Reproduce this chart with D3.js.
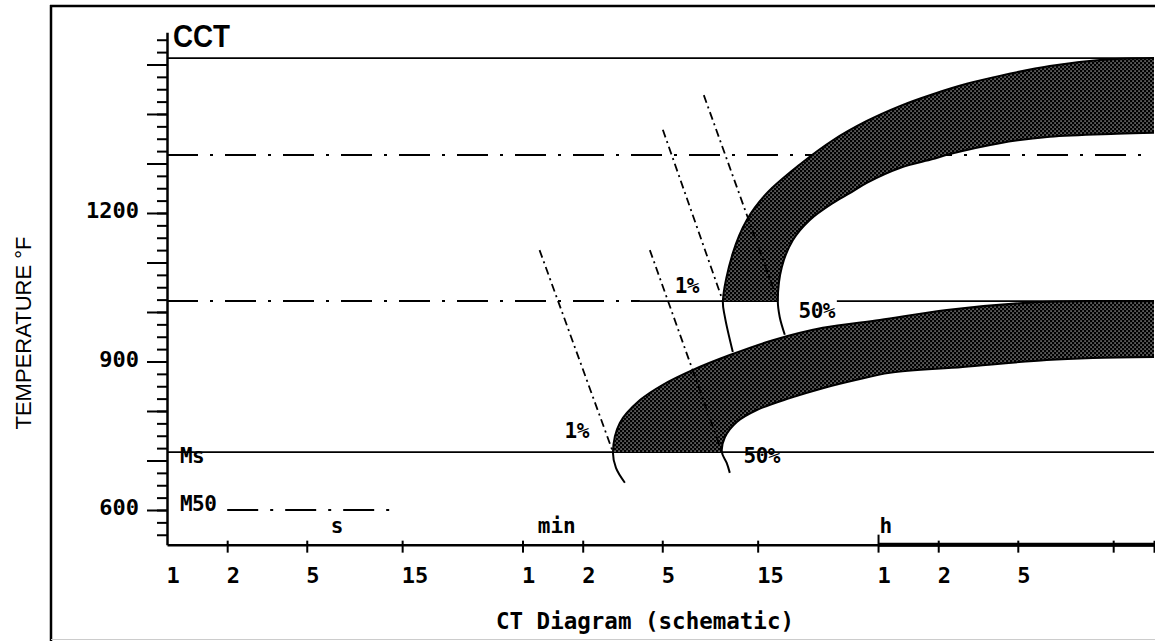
<!DOCTYPE html>
<html><head><meta charset="utf-8">
<script src="https://cdn.jsdelivr.net/npm/d3@7"></script>
<style>body{margin:0;background:#fff}svg{display:block}</style>
</head><body>
<svg id="chart" width="1155" height="641"></svg>
<script>
// ---------- data ----------
const tempMajor = [600, 700, 800, 900, 1000, 1100, 1200, 1300, 1400, 1500];
const tempLabels = [600, 900, 1200];
const tempMinor = d3.range(550, 1551, 25);
const timeTicks = [1, 2, 5, 15, 60, 120, 300, 900, 3600, 7200, 18000, 54000, 86400];
const timeTickLabels = ["1", "2", "5", "15", "1", "2", "5", "15", "1", "2", "5", "", ""];
const unitNames = ["s", "min", "h"];
const unitTimes = [7.1, 89, 3940];

// reference temperatures (°F) with their time spans (s)
const refTemps  = [1513, 1317, 1022, 1022, 1022, 717, 600];
const refStart  = [1, 1, 1, 232, 2240, 1, 2];
const refEnd    = [86400, 77600, 232, 1135, 86400, 86400, 13.5];
const refDashed = [false, true, true, false, false, false, true];

// transformation curves: [time s, temperature °F]
const lowerOne = [[195,655],[176,685],[170,717],[184,776],[232,822],[302,853],[427,883],[653,913],[1072,943],[1905,968],[3673,984],[7943,1004],[19050,1018],[39810,1022],[86400,1022]];
const lowerFifty = [[653,675],[630,695],[596,717],[617,747],[708,778],[891,802],[1303,826],[1905,846],[2818,863],[4121,877],[9550,889],[25120,903],[42660,907],[86400,909]];
const upperOne = [[676,919],[617,990],[603,1022],[676,1119],[794,1186],[1000,1240],[1462,1298],[2138,1347],[3162,1386],[4624,1416],[6761,1440],[10000,1461],[14620,1477],[26000,1497],[46240,1509],[86400,1513]];
const upperFifty = [[1230,954],[1160,990],[1135,1022],[1189,1091],[1349,1145],[1641,1186],[2138,1220],[2600,1240],[3162,1261],[4624,1291],[6761,1309],[8222,1319],[14620,1341],[26000,1354],[56230,1360],[86400,1362]];
const lowerNose = 717;
const upperNose = 1022;

// cooling curves (dash-dot)
const coolStartT = [73, 260, 302, 484];
const coolStartTemp = [1125, 1125, 1368, 1438];
const coolEndT = [170, 596, 603, 1135];
const coolEndTemp = [717, 717, 1022, 1022];

// annotations
const noteText = ["1%", "1%", "50%", "50%"];
const noteT = [112, 398, 1778, 944];
const noteTemp = [745, 1038, 988, 695];
const sideText = ["Ms", "M50"];
const sideT = [1.16, 1.16];
const sideTemp = [695, 598];

// ---------- drawing ----------
const svg = d3.select("#chart");
const mono = "'DejaVu Sans Mono', monospace";

const x = d3.scaleLog().domain([1, 86400]).range([167, 1154]);
const y = d3.scaleLinear().domain([530, 1565]).range([544.65, 32.3]);

// pattern for bands
const defs = svg.append("defs");
const pat = defs.append("pattern").attr("id", "dots").attr("patternUnits", "userSpaceOnUse")
  .attr("width", 4).attr("height", 4);
pat.append("rect").attr("width", 4).attr("height", 4).attr("fill", "#000");
pat.append("rect").attr("x", 0.5).attr("y", 0.5).attr("width", 1.1).attr("height", 1.1).attr("fill", "#fff");
pat.append("rect").attr("x", 2.5).attr("y", 2.5).attr("width", 1.1).attr("height", 1.1).attr("fill", "#fff");

// outer frame
svg.append("line").attr("x1", 51).attr("x2", 51).attr("y1", 5).attr("y2", 641).attr("stroke", "#000").attr("stroke-width", 2.5);
svg.append("line").attr("x1", 50).attr("x2", 1155).attr("y1", 6).attr("y2", 6).attr("stroke", "#000").attr("stroke-width", 2.5);
svg.append("line").attr("x1", 51).attr("x2", 1155).attr("y1", 639.5).attr("y2", 639.5).attr("stroke", "#ccc").attr("stroke-width", 1);

// reference horizontal lines
const dashMain = "31,12,3,12";
refTemps.forEach((T, i) => {
  svg.append("line")
    .attr("x1", x(refStart[i])).attr("x2", x(refEnd[i]))
    .attr("y1", y(T)).attr("y2", y(T))
    .attr("stroke", "#000").attr("stroke-width", refDashed[i] ? 2 : 1.7)
    .attr("stroke-dasharray", refDashed[i] ? dashMain : null);
});

const line = d3.line().x(d => x(d[0])).y(d => y(d[1])).curve(d3.curveCatmullRom.alpha(0.5));

function band(one, fifty, nose) {
  const a = one.filter(d => d[1] >= nose);
  const b = fifty.filter(d => d[1] >= nose).slice().reverse();
  const p = line(a) + line(b).replace(/^M/, "L") + "Z";
  svg.append("path").attr("d", p).attr("fill", "url(#dots)").attr("stroke", "none");
  [one, fifty].forEach(c => svg.append("path").attr("d", line(c)).attr("fill", "none")
    .attr("stroke", "#000").attr("stroke-width", 2));
}
band(lowerOne, lowerFifty, lowerNose);
band(upperOne, upperFifty, upperNose);

// cooling curves
coolStartT.forEach((t, i) => {
  svg.append("path").attr("d", d3.line().x(d => x(d[0])).y(d => y(d[1]))([[t, coolStartTemp[i]], [coolEndT[i], coolEndTemp[i]]]))
    .attr("stroke", "#000").attr("stroke-width", 1.8).attr("fill", "none")
    .attr("stroke-dasharray", "8,4,2,4");
});

// y axis
const gy = svg.append("g").attr("transform", "translate(167,0)");
gy.call(d3.axisLeft(y).tickValues(tempMinor).tickSize(10).tickSizeOuter(0).tickFormat(""));
gy.select(".domain").attr("stroke-width", 2.5);
gy.selectAll(".tick line").attr("stroke-width", 2);
const gyM = svg.append("g").attr("transform", "translate(167,0)");
gyM.call(d3.axisLeft(y).tickValues(tempMajor).tickSize(20).tickPadding(8)
  .tickFormat(d => tempLabels.includes(d) ? String(d) : ""));
gyM.select(".domain").remove();
gyM.selectAll(".tick line").attr("stroke-width", 2);
gyM.selectAll(".tick text").attr("font-family", mono).attr("font-weight", "bold")
  .attr("font-size", 22).attr("fill", "#000").attr("dy", "0.22em");

// x axis
const gx = svg.append("g").attr("transform", "translate(0," + y(530) + ")");
gx.call(d3.axisBottom(x).tickValues(timeTicks).tickSize(8).tickSizeOuter(0)
  .tickFormat((d, i) => timeTickLabels[i]));
gx.select(".domain").attr("stroke-width", 2.5);
gx.selectAll(".tick line").attr("stroke-width", 2).attr("y1", -4).attr("y2", 8)
  .attr("opacity", d => d === 1 ? 0 : 1);
gx.selectAll(".tick").filter(d => d === 3600).select("line").attr("y1", -10);
gx.selectAll(".tick text").attr("font-family", mono).attr("font-weight", "bold")
  .attr("font-size", 22).attr("fill", "#000").attr("text-anchor", "start")
  .attr("x", -1).attr("y", 38).attr("dy", 0);
gx.append("line").attr("x1", x(3600)).attr("x2", x(86400)).attr("y1", 0).attr("y2", 0)
  .attr("stroke", "#000").attr("stroke-width", 4);

// unit labels
unitNames.forEach((u, i) => {
  svg.append("text").attr("x", x(unitTimes[i])).attr("y", y(530) - 12)
    .attr("text-anchor", "middle").attr("font-family", mono).attr("font-weight", "bold")
    .attr("font-size", 21).text(u);
});

// annotations
noteText.forEach((s, i) => {
  svg.append("text").attr("x", x(noteT[i])).attr("y", y(noteTemp[i]))
    .attr("text-anchor", "middle").attr("font-family", mono).attr("font-weight", "bold")
    .attr("font-size", 21).attr("letter-spacing", -0.5).text(s);
});
sideText.forEach((s, i) => {
  svg.append("text").attr("x", x(sideT[i])).attr("y", y(sideTemp[i]))
    .attr("text-anchor", "start").attr("font-family", mono).attr("font-weight", "bold")
    .attr("font-size", 21).attr("letter-spacing", -0.5).text(s);
});

// titles
svg.append("text").attr("x", 173).attr("y", 47).attr("font-family", "'Liberation Sans', Arial, sans-serif")
  .attr("font-weight", "bold").attr("font-size", 32).attr("textLength", 57)
  .attr("lengthAdjust", "spacingAndGlyphs").text("CCT");
svg.append("text").attr("transform", "translate(31,333) rotate(-90)")
  .attr("text-anchor", "middle").attr("font-family", "'Liberation Sans', Arial, sans-serif")
  .attr("font-size", 22).attr("textLength", 193).attr("lengthAdjust", "spacingAndGlyphs")
  .text("TEMPERATURE  °F");
svg.append("text").attr("x", 645).attr("y", 629).attr("text-anchor", "middle")
  .attr("font-family", mono).attr("font-weight", "bold").attr("font-size", 22.5)
  .text("CT Diagram (schematic)");
</script>
</body></html>
